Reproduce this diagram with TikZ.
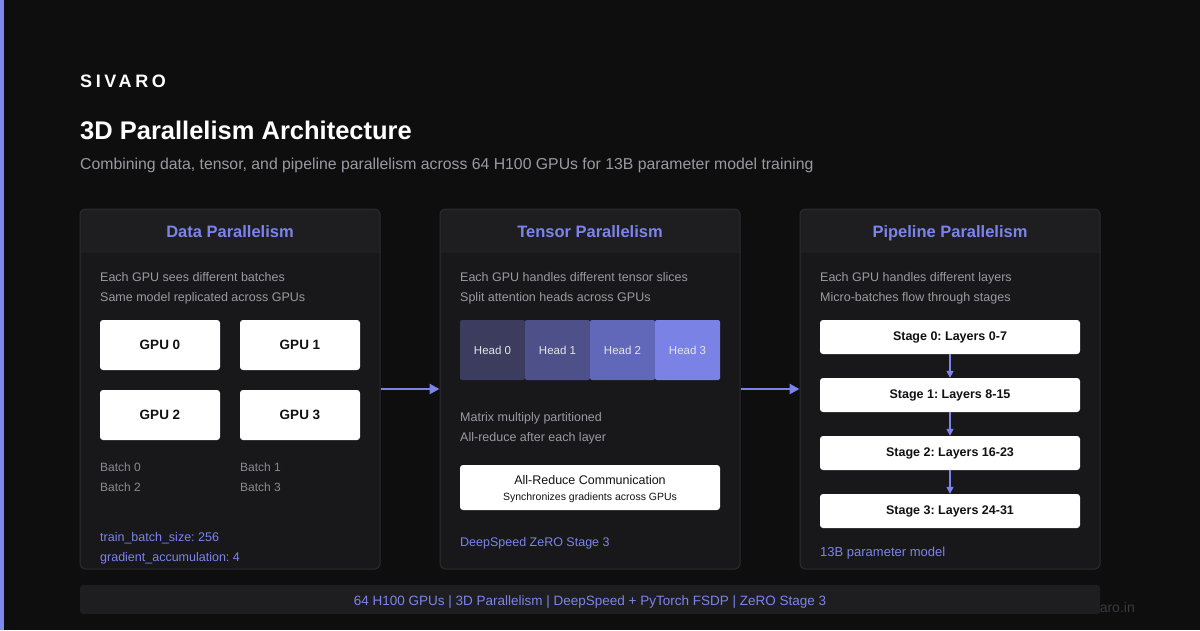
\documentclass[tikz,border=0pt]{standalone}
\usepackage{fontspec}
\setmainfont{Liberation Sans}
\newfontfamily\spacedfont[LetterSpace=20]{Liberation Sans}
\usetikzlibrary{arrows.meta}
\frenchspacing
\definecolor{bgc}{HTML}{0E0E0F}
\definecolor{accent}{HTML}{7C84EC}
\definecolor{barc}{HTML}{8088F0}
\definecolor{panelc}{HTML}{18181B}
\definecolor{hdrc}{HTML}{1E1E21}
\definecolor{borderc}{HTML}{2C2C30}
\definecolor{mutedc}{HTML}{9A9AA2}
\definecolor{dimc}{HTML}{8A8A92}
\definecolor{darktext}{HTML}{111114}
\definecolor{headA}{HTML}{3C3D5E}
\definecolor{headB}{HTML}{4E5189}
\definecolor{headC}{HTML}{6268B9}
\definecolor{headD}{HTML}{7A82E6}
\definecolor{wmc}{HTML}{3A3A3F}
\newcommand{\fsz}[1]{\fontsize{#1}{#1}\selectfont}
\tikzset{
  even/.style={text height=9pt, text depth=2pt, yshift=-2pt},
  panel/.style={draw=borderc, line width=1pt, rounded corners=5pt, minimum width=300pt, minimum height=360pt, inner sep=0pt},
  ptitle/.style={even, text=accent, font=\fsz{16.5}\bfseries, inner sep=0pt},
  desc/.style={even, anchor=west, text=mutedc, font=\fsz{12.5}, inner sep=0pt},
  small/.style={even, anchor=west, text=dimc, font=\fsz{12}, inner sep=0pt},
  note/.style={even, anchor=west, text=accent, font=\fsz{12.5}, inner sep=0pt},
  gpubox/.style={fill=white, rounded corners=3pt, minimum width=120pt, minimum height=50pt, inner sep=0pt, text=darktext, font=\fsz{13.5}\bfseries},
  headbox/.style={rounded corners=2pt, minimum width=65pt, minimum height=60pt, inner sep=0pt, text=white!90!black, font=\fsz{11.5}},
  stagebox/.style={text height=9pt, text depth=2pt, fill=white, rounded corners=3pt, minimum width=260pt, minimum height=34pt, inner sep=0pt, text=darktext, font=\fsz{12.5}\bfseries},
  flow/.style={draw=accent, line width=2.5pt, -{Triangle[length=10pt,width=10pt]}},
  sflow/.style={draw=accent, line width=1.5pt, -{Triangle[length=7pt,width=7pt]}},
}
\begin{document}
\begin{tikzpicture}[x=1pt,y=-1pt]
\fill[bgc] (0,0) rectangle (1200,630);
\useasboundingbox (0,0) rectangle (1200,630);
\fill[barc] (0,0) rectangle (4,630);

% header
\node[anchor=west, inner sep=0pt, text=white, font=\fsz{18}\spacedfont\bfseries] (brand) at (80,81) {SIVARO};
\node[anchor=west, inner sep=0pt, text=white, font=\fsz{25.5}\bfseries] (title) at (80,130) {3D Parallelism Architecture};
\node[even, anchor=west, inner sep=0pt, text=mutedc, font=\fsz{15.8}] (subtitle) at (80,164) {Combining data, tensor, and pipeline parallelism across 64 H100 GPUs for 13B parameter model training};

% panels backgrounds
\foreach \x in {80,440,800}{
  \fill[panelc, rounded corners=5pt] (\x,209) rectangle (\x+300,569);
  \fill[hdrc] (\x,253) [rounded corners=5pt] -- (\x,209) -- (\x+300,209) [sharp corners] -- (\x+300,253) -- cycle;
}
\node[panel] (dp) at (230,389) {};
\node[panel] (tp) at (590,389) {};
\node[panel] (pp) at (950,389) {};

% Data parallelism
\node[ptitle] (dpt) at (230,232) {Data Parallelism};
\node[desc] (dpd1) at (100,276) {Each GPU sees different batches};
\node[desc] (dpd2) at (100,296) {Same model replicated across GPUs};
\node[gpubox] (g0) at (160,345) {GPU 0};
\node[gpubox] (g1) at (300,345) {GPU 1};
\node[gpubox] (g2) at (160,415) {GPU 2};
\node[gpubox] (g3) at (300,415) {GPU 3};
\node[small] (b0) at (100,466) {Batch 0};
\node[small] (b2) at (100,486) {Batch 2};
\node[small] (b1) at (240,466) {Batch 1};
\node[small] (b3) at (240,486) {Batch 3};
\node[note] (dpn1) at (100,536) {train\_batch\_size: 256};
\node[note] (dpn2) at (100,556) {gradient\_accumulation: 4};

% Tensor parallelism
\node[ptitle] (tpt) at (590,232) {Tensor Parallelism};
\node[desc] (tpd1) at (460,276) {Each GPU handles different tensor slices};
\node[desc] (tpd2) at (460,296) {Split attention heads across GPUs};
\node[headbox, fill=headA] (h0) at (492.5,350) {Head 0};
\node[headbox, fill=headB] (h1) at (557.5,350) {Head 1};
\node[headbox, fill=headC] (h2) at (622.5,350) {Head 2};
\node[headbox, fill=headD] (h3) at (687.5,350) {Head 3};
\node[desc] (tpd3) at (460,416) {Matrix multiply partitioned};
\node[desc] (tpd4) at (460,436) {All-reduce after each layer};
\node[fill=white, rounded corners=3pt, minimum width=260pt, minimum height=45pt, inner sep=0pt] (ar) at (590,487.5) {};
\node[inner sep=0pt, text=darktext, font=\fsz{12.5}] (art) at (590,480) {All-Reduce Communication};
\node[inner sep=0pt, text=darktext, font=\fsz{10.5}] (ars) at (590,498) {Synchronizes gradients across GPUs};
\node[note] (tpn) at (460,541) {DeepSpeed ZeRO Stage 3};

% Pipeline parallelism
\node[ptitle] (ppt) at (950,232) {Pipeline Parallelism};
\node[desc] (ppd1) at (820,276) {Each GPU handles different layers};
\node[desc] (ppd2) at (820,296) {Micro-batches flow through stages};
\node[stagebox] (s0) at (950,337) {Stage 0: Layers 0-7};
\node[stagebox] (s1) at (950,395) {Stage 1: Layers 8-15};
\node[stagebox] (s2) at (950,453) {Stage 2: Layers 16-23};
\node[stagebox] (s3) at (950,511) {Stage 3: Layers 24-31};
\draw[sflow] (s0) -- (s1);
\draw[sflow] (s1) -- (s2);
\draw[sflow] (s2) -- (s3);
\node[note, font=\fsz{13}] (ppn) at (820,551) {13B parameter model};

% arrows between panels
\draw[flow] (dp.east) -- (tp.west);
\draw[flow] (tp.east) -- (pp.west);

% watermark and footer
\node[anchor=east, inner sep=0pt, text=wmc, font=\fsz{14}] (wm) at (1135,607) {sivaro.in};
\node[fill=hdrc, rounded corners=3pt, minimum width=1020pt, minimum height=29pt, inner sep=0pt] (foot) at (590,599.5) {};
\node[even, inner sep=0pt, text=accent, font=\fsz{13.5}] (foott) at (590,600) {64 H100 GPUs | 3D Parallelism | DeepSpeed + PyTorch FSDP | ZeRO Stage 3};
\end{tikzpicture}
\end{document}
